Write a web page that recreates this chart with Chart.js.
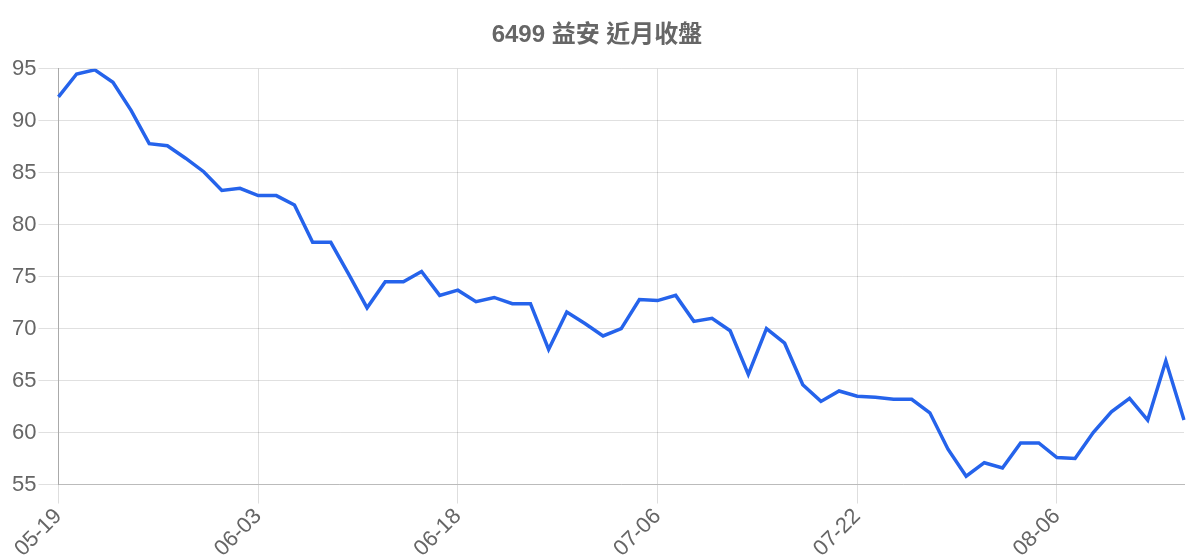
<!DOCTYPE html>
<html lang="zh-Hant">
<head>
  <meta charset="UTF-8">
  <title>6499 益安 近月收盤</title>
  <script src="https://cdn.jsdelivr.net/npm/chart.js"></script>
  <style>
    html, body { margin: 0; padding: 0; background: #fff; }
    #wrap { width: 1200px; height: 560px; }
  </style>
</head>
<body>
  <div id="wrap"><canvas id="c"></canvas></div>
  <script>
    // 日期 (MM-DD)
    const dates = [
      '05-19','05-20','05-21','05-22','05-23','05-26','05-27','05-28','05-29','05-30','06-02',
      '06-03','06-04','06-05','06-06','06-09','06-10','06-11','06-12','06-13','06-16','06-17',
      '06-18','06-19','06-20','06-23','06-24','06-25','06-26','06-29','06-30','07-01','07-02',
      '07-06','07-07','07-08','07-09','07-10','07-13','07-14','07-15','07-16','07-17','07-20',
      '07-22','07-23','07-24','07-27','07-28','07-29','07-30','07-31','08-03','08-04','08-05',
      '08-06','08-07','08-10','08-11','08-12','08-13','08-14','08-17'
    ];
    // 收盤價
    const closes = [
      92.3, 94.5, 94.9, 93.7, 91.0, 87.8, 87.6, 86.4, 85.1, 83.3, 83.5,
      82.8, 82.8, 81.9, 78.3, 78.3, 75.2, 72.0, 74.5, 74.5, 75.5, 73.2,
      73.7, 72.6, 73.0, 72.4, 72.4, 68.0, 71.6, 70.5, 69.3, 70.0, 72.8,
      72.7, 73.2, 70.7, 71.0, 69.8, 65.6, 70.0, 68.6, 64.6, 63.0, 64.0,
      63.5, 63.4, 63.2, 63.2, 61.9, 58.4, 55.8, 57.1, 56.6, 59.0, 59.0,
      57.6, 57.5, 60.0, 62.0, 63.3, 61.2, 66.9, 61.2
    ];
    const yTicks = [55, 60, 65, 70, 75, 80, 85, 90, 95];
    const labelEvery = 11;

    const fam = '"Liberation Sans", Arial, "Noto Sans CJK TC", sans-serif';
    Chart.defaults.font.family = fam;
    Chart.defaults.color = '#666';

    new Chart(document.getElementById('c'), {
      type: 'line',
      data: {
        labels: dates,
        datasets: [{
          label: '收盤',
          data: closes,
          borderColor: '#2563eb',
          borderWidth: 3.5,
          pointRadius: 0,
          tension: 0,
          fill: false
        }]
      },
      options: {
        responsive: true,
        maintainAspectRatio: false,
        animation: false,
        layout: { padding: { left: 10, right: 16, top: 0, bottom: -2 } },
        plugins: {
          legend: { display: false },
          title: {
            display: true,
            text: '6499 益安 近月收盤',
            font: { size: 24, weight: 'bold', family: fam },
            color: '#666',
            padding: { top: 21, bottom: 19 }
          },
          tooltip: { enabled: false }
        },
        scales: {
          x: {
            grid: { color: 'rgba(0,0,0,0.13)', tickLength: 19 },
            border: { color: '#bbb' },
            ticks: {
              autoSkip: false,
              maxRotation: 45,
              minRotation: 45,
              padding: 0,
              font: { size: 22 },
              callback: function (v, i) { return i % labelEvery === 0 ? dates[i] : null; }
            }
          },
          y: {
            min: yTicks[0],
            max: yTicks[yTicks.length - 1],
            afterBuildTicks: function (axis) { axis.ticks = yTicks.map(v => ({ value: v })); },
            grid: { color: 'rgba(0,0,0,0.12)', tickLength: 20 },
            border: { color: '#aaa' },
            ticks: { font: { size: 22 }, padding: 2 }
          }
        }
      }
    });
  </script>
</body>
</html>
